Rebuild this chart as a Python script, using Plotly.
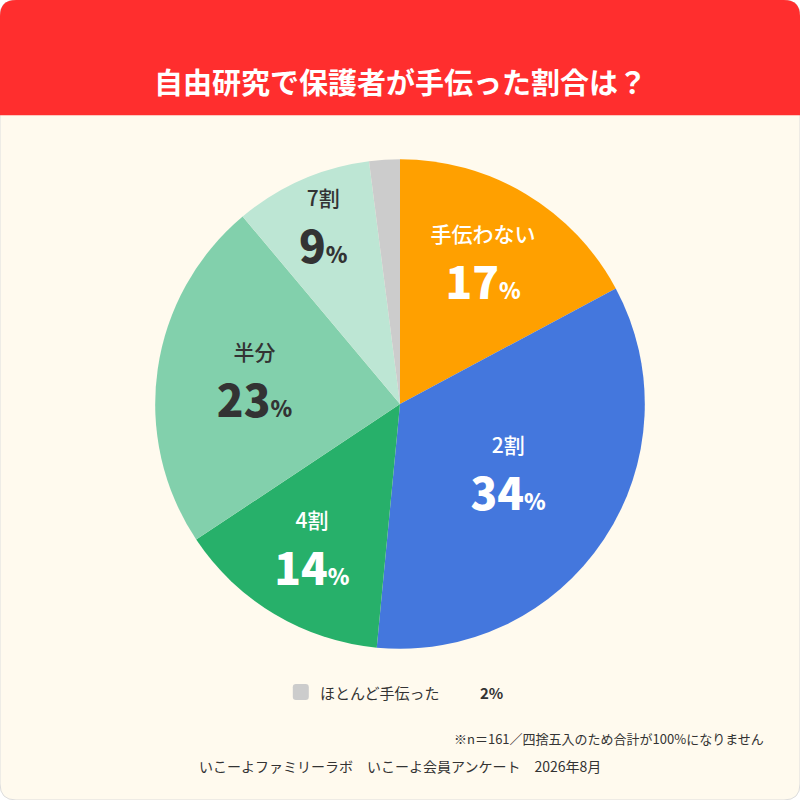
import plotly.graph_objects as go

categories = ["手伝わない", "2割", "4割", "半分", "7割", "ほとんど手伝った"]
values = [17, 34, 14, 23, 9, 2]
colors = ["#FFA000", "#4477DD", "#27B06A", "#82D0AC", "#BDE6D4", "#CCCCCC"]
text_colors = ["#ffffff", "#ffffff", "#ffffff", "#333333", "#333333", "#333333"]

texts = []
for c, v in zip(categories, values):
    if v < 5:
        texts.append("")
    else:
        texts.append(f"<span style='font-size:21px;font-weight:500'>{c}</span><br><span style='font-weight:900'>{v}</span><span style='font-size:22px;font-weight:900'>%</span>")

fig = go.Figure(go.Pie(
    labels=categories, values=values, sort=False, direction="clockwise", rotation=0,
    marker=dict(colors=colors, line=dict(width=0)),
    text=texts, textinfo="text", textposition="inside", insidetextorientation="horizontal",
    textfont=dict(size=44, color=text_colors, family="Noto Sans CJK JP"),
    domain=dict(x=[0.194, 0.806], y=[0.189, 0.801]), showlegend=False, hoverinfo="skip",
))

fig.update_layout(
    width=800, height=800, margin=dict(l=0, r=0, t=0, b=0),
    paper_bgcolor="#ffffff", plot_bgcolor="#ffffff",
    font=dict(family="Noto Sans CJK JP", color="#333333"),
    uniformtext=dict(minsize=10, mode="show"),
    shapes=[
        dict(type="path", xref="paper", yref="paper", layer="below",
             path="M 0.02 0 L 0.98 0 Q 1 0 1 0.02 L 1 0.98 Q 1 1 0.98 1 L 0.02 1 Q 0 1 0 0.98 L 0 0.02 Q 0 0 0.02 0 Z",
             fillcolor="#FFFAEE", line=dict(color="#dddddd", width=1)),
        dict(type="path", xref="paper", yref="paper", layer="below",
             path="M 0 0.856 L 1 0.856 L 1 0.98 Q 1 1 0.98 1 L 0.02 1 Q 0 1 0 0.98 Z",
             fillcolor="#FF2E2E", line=dict(width=0)),
        dict(type="path", xref="paper", yref="paper",
             path="M 0.37 0.125 L 0.382 0.125 Q 0.386 0.125 0.386 0.129 L 0.386 0.141 Q 0.386 0.145 0.382 0.145 L 0.37 0.145 Q 0.366 0.145 0.366 0.141 L 0.366 0.129 Q 0.366 0.125 0.37 0.125 Z",
             fillcolor="#CCCCCC", line=dict(width=0)),
    ],
    annotations=[
        dict(text="<b>自由研究で保護者が手伝った割合は？</b>", x=0.5, y=0.928, xref="paper", yref="paper",
             showarrow=False, font=dict(size=29, color="#ffffff")),
        dict(text="ほとんど手伝った", x=0.398, y=0.1345, xref="paper", yref="paper", xanchor="left", yanchor="middle",
             showarrow=False, font=dict(size=15, color="#333333")),
        dict(text="<b>2%</b>", x=0.598, y=0.1345, xref="paper", yref="paper", xanchor="left", yanchor="middle",
             showarrow=False, font=dict(size=15, color="#333333")),
        dict(text="※n＝161／四捨五入のため合計が100%になりません", x=0.958, y=0.062, xref="paper", yref="paper",
             xanchor="right", showarrow=False, font=dict(size=13, color="#333333")),
        dict(text="いこーよファミリーラボ　いこーよ会員アンケート　2026年8月", x=0.5, y=0.027, xref="paper", yref="paper",
             showarrow=False, font=dict(size=14, color="#333333")),
    ],
)
fig.write_html("out.html", config={"displayModeBar": False},
               post_script="document.body.style.margin='0';document.body.style.padding='0';")
